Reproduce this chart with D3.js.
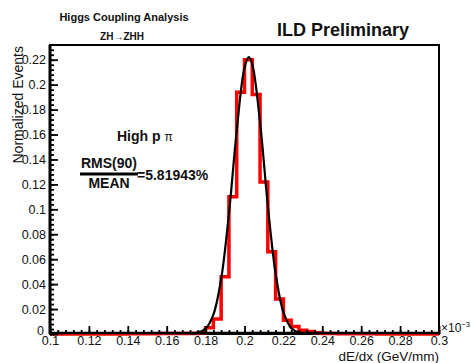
<!DOCTYPE html>
<html>
<head>
<meta charset="utf-8">
<script src="https://cdn.jsdelivr.net/npm/d3@7"></script>
<style>
  body { margin: 0; background: #fff; }
  svg { display: block; font-family: "Liberation Sans", Arial, sans-serif; }
</style>
</head>
<body>
<div id="chart"></div>
<script>
// dE/dx resolution plot, ROOT style

var width = 471, height = 363;

// histogram: 50 bins of 0.004 from 0.1 to 0.3 (normalized)
var binLow = 0.1, binWidth = 0.004;
var binValues = [
  0, 0, 0, 0, 0, 0, 0, 0, 0, 0,
  0.0003, 0.0003, 0.0003, 0.0003, 0.0005, 0.0005, 0.0005, 0.0005, 0.0005, 0.001,
  0.005, 0.012, 0.046, 0.110, 0.194, 0.220, 0.192, 0.122, 0.066, 0.028,
  0.011, 0.006, 0.003, 0.002, 0.001, 0.0005, 0.0005, 0.0003, 0.0003, 0.0003,
  0.0003, 0.0003, 0, 0, 0, 0, 0, 0, 0, 0
];

// gaussian fit curve
var fitX = [0.172, 0.176, 0.180, 0.184, 0.188, 0.192, 0.196, 0.200, 0.2022, 0.204, 0.208, 0.212, 0.216, 0.220, 0.224, 0.228, 0.232];
var fitY = [0.0001, 0.0009, 0.0043, 0.0156, 0.0442, 0.0965, 0.163, 0.2136, 0.222, 0.2163, 0.1696, 0.1029, 0.0483, 0.0175, 0.0049, 0.0011, 0.0002];

var xTicks = [0.1, 0.12, 0.14, 0.16, 0.18, 0.2, 0.22, 0.24, 0.26, 0.28, 0.3];
var xTickLabels = ["0.1", "0.12", "0.14", "0.16", "0.18", "0.2", "0.22", "0.24", "0.26", "0.28", "0.3"];
var yTicks = [0, 0.02, 0.04, 0.06, 0.08, 0.1, 0.12, 0.14, 0.16, 0.18, 0.2, 0.22];
var yTickLabels = ["0", "0.02", "0.04", "0.06", "0.08", "0.1", "0.12", "0.14", "0.16", "0.18", "0.2", "0.22"];

var frame = {left: 50, right: 439, top: 45, bottom: 334};

var svg = d3.select("#chart").append("svg")
  .attr("width", width)
  .attr("height", height);

var x = d3.scaleLinear().domain([0.1, 0.3]).range([frame.left, frame.right]);
var y = d3.scaleLinear().domain([0, 0.2318]).range([frame.bottom, frame.top]);

// frame
svg.append("rect")
  .attr("x", frame.left).attr("y", frame.top)
  .attr("width", frame.right - frame.left)
  .attr("height", frame.bottom - frame.top)
  .attr("fill", "none")
  .attr("stroke", "#000")
  .attr("stroke-width", 2);

// histogram outline
var stepPts = [];
binValues.forEach(function(v, i) {
  var lo = binLow + i * binWidth;
  stepPts.push([x(lo), y(v)]);
  stepPts.push([x(lo + binWidth), y(v)]);
});
svg.append("path")
  .attr("d", d3.line()(stepPts))
  .attr("fill", "none")
  .attr("stroke", "#ff0000")
  .attr("stroke-width", 3.5);

// fit
var fitPts = fitX.map(function(d, i) { return [d, fitY[i]]; });
svg.append("path")
  .datum(fitPts)
  .attr("d", d3.line()
    .x(function(d) { return x(d[0]); })
    .y(function(d) { return y(d[1]); })
    .curve(d3.curveCatmullRom))
  .attr("fill", "none")
  .attr("stroke", "#000")
  .attr("stroke-width", 2.2);

// minor ticks
var xMinor = d3.range(0, 51).map(function(i) { return binLow + i * binWidth; });
var yMinor = d3.range(0, 58).map(function(i) { return i * 0.004; });

svg.append("g")
  .attr("transform", "translate(0," + frame.bottom + ")")
  .call(d3.axisBottom(x).tickValues(xMinor).tickSize(-4).tickFormat(""));
var xAxis = svg.append("g")
  .attr("transform", "translate(0," + frame.bottom + ")")
  .call(d3.axisBottom(x).tickValues(xTicks).tickSize(-8).tickPadding(2)
    .tickFormat(function(d, i) { return xTickLabels[i]; }));

svg.append("g")
  .attr("transform", "translate(" + frame.left + ",0)")
  .call(d3.axisLeft(y).tickValues(yMinor).tickSize(-4).tickFormat(""));
var yAxis = svg.append("g")
  .attr("transform", "translate(" + frame.left + ",0)")
  .call(d3.axisLeft(y).tickValues(yTicks).tickSize(-8).tickPadding(4)
    .tickFormat(function(d, i) { return yTickLabels[i]; }));

svg.selectAll(".domain").remove();
svg.selectAll(".tick line").attr("stroke", "#000").attr("stroke-width", 1.8);
svg.selectAll(".tick text")
  .attr("fill", "#111")
  .attr("font-size", 12.5)
  .attr("font-family", "Liberation Sans, Arial, sans-serif");

// the "0" label sits just above the x labels, as in ROOT
yAxis.selectAll(".tick text").filter(function(d) { return d === 0; })
  .attr("dy", "0.05em").attr("x", -6);

// thick axis lines
svg.append("line")
  .attr("x1", frame.left).attr("x2", frame.right)
  .attr("y1", frame.bottom - 1).attr("y2", frame.bottom - 1)
  .attr("stroke", "#000").attr("stroke-width", 2.5);
svg.append("line")
  .attr("x1", frame.left).attr("x2", frame.left)
  .attr("y1", frame.top).attr("y2", frame.bottom)
  .attr("stroke", "#000").attr("stroke-width", 3);

// exponent
var expo = svg.append("text")
  .attr("x", frame.right + 2).attr("y", 332)
  .attr("font-size", 12).attr("fill", "#111")
  .text("\u00d710");
expo.append("tspan").attr("dy", -5).attr("font-size", 7.5).text("\u22123");

// axis titles
svg.append("text")
  .attr("x", frame.right).attr("y", 361)
  .attr("text-anchor", "end")
  .attr("font-size", 13.5).attr("fill", "#111")
  .text("dE/dx (GeV/mm)");

svg.append("text")
  .attr("transform", "translate(23,46) rotate(-90)")
  .attr("text-anchor", "end")
  .attr("font-size", 14).attr("fill", "#111")
  .text("Normalized Events");

// header texts
svg.append("text")
  .attr("x", 124).attr("y", 21)
  .attr("text-anchor", "middle")
  .attr("font-size", 11).attr("font-weight", "bold").attr("fill", "#111")
  .text("Higgs Coupling Analysis");
svg.append("text")
  .attr("x", 122).attr("y", 40)
  .attr("text-anchor", "middle")
  .attr("font-size", 10).attr("font-weight", "bold").attr("fill", "#111")
  .text("ZH\u2192ZHH");
svg.append("text")
  .attr("x", 343).attr("y", 36)
  .attr("text-anchor", "middle")
  .attr("font-size", 18).attr("font-weight", "bold").attr("fill", "#111")
  .text("ILD Preliminary");

// annotation
var hp = svg.append("text")
  .attr("x", 117).attr("y", 141)
  .attr("font-size", 14).attr("font-weight", "bold").attr("fill", "#111")
  .text("High p ");
hp.append("tspan").attr("font-weight", "normal").attr("font-size", 12).text("\u03c0");

svg.append("text")
  .attr("x", 109).attr("y", 168)
  .attr("text-anchor", "middle")
  .attr("font-size", 14).attr("font-weight", "bold").attr("fill", "#111")
  .text("RMS(90)");
svg.append("line")
  .attr("x1", 80).attr("x2", 138)
  .attr("y1", 174).attr("y2", 174)
  .attr("stroke", "#000").attr("stroke-width", 3);
svg.append("text")
  .attr("x", 109).attr("y", 188)
  .attr("text-anchor", "middle")
  .attr("font-size", 14).attr("font-weight", "bold").attr("fill", "#111")
  .text("MEAN");
svg.append("text")
  .attr("x", 137).attr("y", 180)
  .attr("font-size", 14).attr("font-weight", "bold").attr("fill", "#111")
  .text("=5.81943%");
</script>
</body>
</html>
